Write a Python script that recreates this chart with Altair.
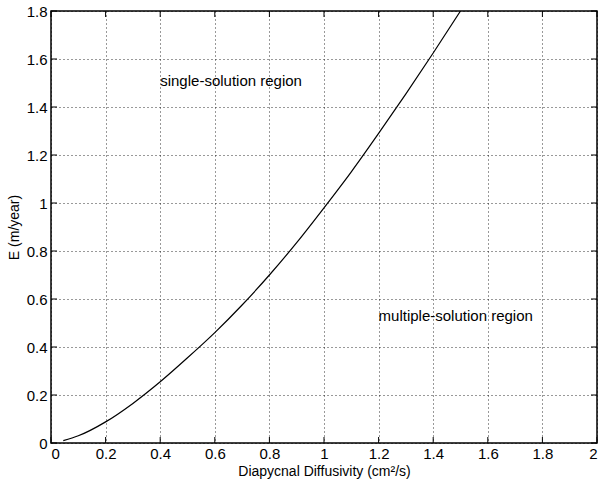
import altair as alt
import pandas as pd

# Curve values
k_vals = [0.045, 0.1, 0.2, 0.3, 0.4, 0.5, 0.6, 0.7, 0.8, 0.9, 1.0, 1.1, 1.2, 1.3, 1.4, 1.5]
e_vals = [0.01, 0.03, 0.088, 0.165, 0.255, 0.355, 0.46, 0.575, 0.70, 0.835, 0.98, 1.13, 1.29, 1.455, 1.625, 1.8]

x_ticks = [0, 0.2, 0.4, 0.6, 0.8, 1.0, 1.2, 1.4, 1.6, 1.8, 2.0]
y_ticks = [0, 0.2, 0.4, 0.6, 0.8, 1.0, 1.2, 1.4, 1.6, 1.8]

label_text = ["single-solution region", "multiple-solution region"]
label_k = [0.4, 1.2]
label_e = [1.51, 0.53]

FONT = "Liberation Sans"

curve = pd.DataFrame({"k": k_vals, "E": e_vals})
xt = pd.DataFrame({"k": x_ticks})
yt = pd.DataFrame({"E": y_ticks})
labels = pd.DataFrame({"k": label_k, "E": label_e, "label": label_text})

xscale = alt.Scale(domain=[0, 2], nice=False, zero=False)
yscale = alt.Scale(domain=[0, 1.8], nice=False, zero=False)

x_axis = alt.Axis(
    values=x_ticks, format="~g", grid=True, ticks=False, tickSize=0, domain=False,
    gridColor="#000000", gridDash=[1, 3], gridWidth=1, gridOpacity=0.8,
    labelFont=FONT, labelFontSize=15, labelColor="black", labelPadding=3,
    title="Diapycnal Diffusivity (cm²/s)", titleFont=FONT, titleFontSize=14,
    titleFontWeight="normal", titleColor="black", titlePadding=3,
)
y_axis = alt.Axis(
    values=y_ticks, format="~g", grid=True, ticks=False, tickSize=0, domain=False,
    gridColor="#000000", gridDash=[1, 3], gridWidth=1, gridOpacity=0.8,
    labelFont=FONT, labelFontSize=15, labelColor="black", labelPadding=4,
    title="E (m/year)", titleFont=FONT, titleFontSize=14,
    titleFontWeight="normal", titleColor="black", titlePadding=5,
)

line = alt.Chart(curve).mark_line(color="black", strokeWidth=1.2, interpolate="monotone", clip=True).encode(
    x=alt.X("k:Q", scale=xscale, axis=x_axis),
    y=alt.Y("E:Q", scale=yscale, axis=y_axis),
)

TL = 6
bottom_ticks = alt.Chart(xt).mark_rule(color="black", strokeWidth=1).encode(
    x=alt.X("k:Q", scale=xscale, axis=x_axis), y=alt.value(432), y2=alt.value(432 - TL)
)
top_ticks = alt.Chart(xt).mark_rule(color="black", strokeWidth=1).encode(
    x=alt.X("k:Q", scale=xscale, axis=x_axis), y=alt.value(0), y2=alt.value(TL)
)
left_ticks = alt.Chart(yt).mark_rule(color="black", strokeWidth=1).encode(
    y=alt.Y("E:Q", scale=yscale, axis=y_axis), x=alt.value(0), x2=alt.value(TL)
)
right_ticks = alt.Chart(yt).mark_rule(color="black", strokeWidth=1).encode(
    y=alt.Y("E:Q", scale=yscale, axis=y_axis), x=alt.value(546), x2=alt.value(546 - TL)
)

text = alt.Chart(labels).mark_text(
    align="left", baseline="middle", font=FONT, fontSize=15, color="black"
).encode(
    x=alt.X("k:Q", scale=xscale, axis=x_axis),
    y=alt.Y("E:Q", scale=yscale, axis=y_axis),
    text="label:N",
)

chart = alt.layer(line, bottom_ticks, top_ticks, left_ticks, right_ticks, text).properties(
    width=546, height=432,
    autosize=alt.AutoSizeParams(type="none"),
    padding={"left": 51, "top": 11, "right": 1, "bottom": 42},
    background="white",
).configure_view(stroke="black", strokeWidth=1.5)

chart.save("out.html", embed_options={"renderer": "svg", "actions": False})
